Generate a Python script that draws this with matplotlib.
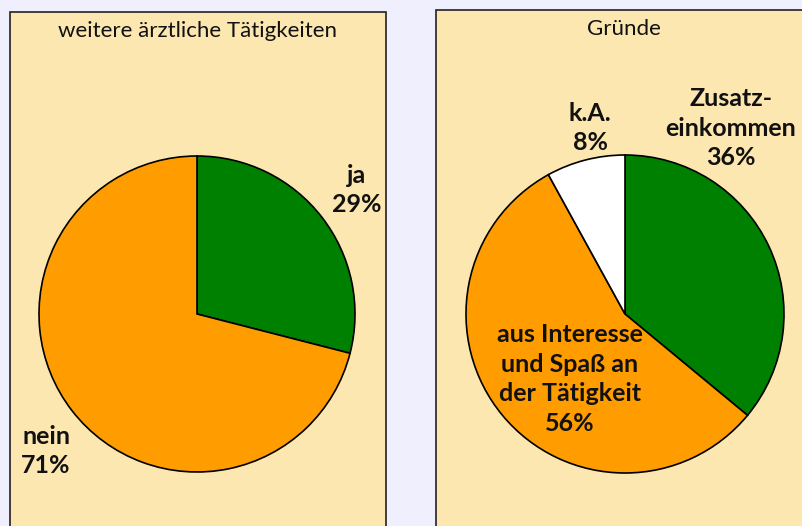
import matplotlib.pyplot as plt
from matplotlib.patches import Rectangle

# Daten
titel_links = "weitere ärztliche Tätigkeiten"
labels_links = ["ja", "nein"]
werte_links = [29, 71]

titel_rechts = "Gründe"
labels_rechts = ["Zusatz-\neinkommen", "aus Interesse\nund Spaß an\nder Tätigkeit", "k.A."]
werte_rechts = [36, 56, 8]

gruen = "#008000"
orange = "#FF9C00"
hintergrund = "#EFEFFE"
panel = "#FDE7B0"

plt.rcParams["font.family"] = ["Lato", "DejaVu Sans"]

fig = plt.figure(figsize=(8.02, 5.26), dpi=100, facecolor=hintergrund)
ax = fig.add_axes([0, 0, 1, 1])
ax.set_facecolor(hintergrund)

H = 526

# Rahmen der beiden Felder
ax.add_patch(Rectangle((10, -10), 376, H - 12 + 10, facecolor=panel,
                       edgecolor="#222222", linewidth=1.2))
ax.add_patch(Rectangle((436, -10), 400, H - 10 + 10, facecolor=panel,
                       edgecolor="#222222", linewidth=1.2))

# Torten
ax.pie(werte_links, colors=[gruen, orange], startangle=90, counterclock=False,
       center=(197, H - 314), radius=158,
       wedgeprops=dict(edgecolor="black", linewidth=1.2))
ax.pie(werte_rechts, colors=[gruen, orange, "white"], startangle=90,
       counterclock=False, center=(625, H - 314), radius=159,
       wedgeprops=dict(edgecolor="black", linewidth=1.2))

ax.set_xlim(0, 802)
ax.set_ylim(0, H)
ax.set_aspect("auto")
ax.axis("off")

# Titel
ax.text(197, H - 31, titel_links, ha="center", va="center", fontsize=16,
        color="#111111")
ax.text(624, H - 29, titel_rechts, ha="center", va="center", fontsize=16,
        color="#111111")

# Beschriftungen
stil = dict(ha="center", va="center", fontsize=18, fontweight="bold",
            color="#111111", linespacing=1.35)
ax.text(357, H - 190, f"{labels_links[0]}\n{werte_links[0]}%", **stil)
ax.text(46, H - 451, f"{labels_links[1]}\n{werte_links[1]}%", **stil)
ax.text(731, H - 128, f"{labels_rechts[0]}\n{werte_rechts[0]}%", **stil)
ax.text(570, H - 379, f"{labels_rechts[1]}\n{werte_rechts[1]}%", **stil)
ax.text(590, H - 128, f"{labels_rechts[2]}\n{werte_rechts[2]}%", **stil)

fig.savefig("out.png", dpi=100, facecolor=hintergrund)
